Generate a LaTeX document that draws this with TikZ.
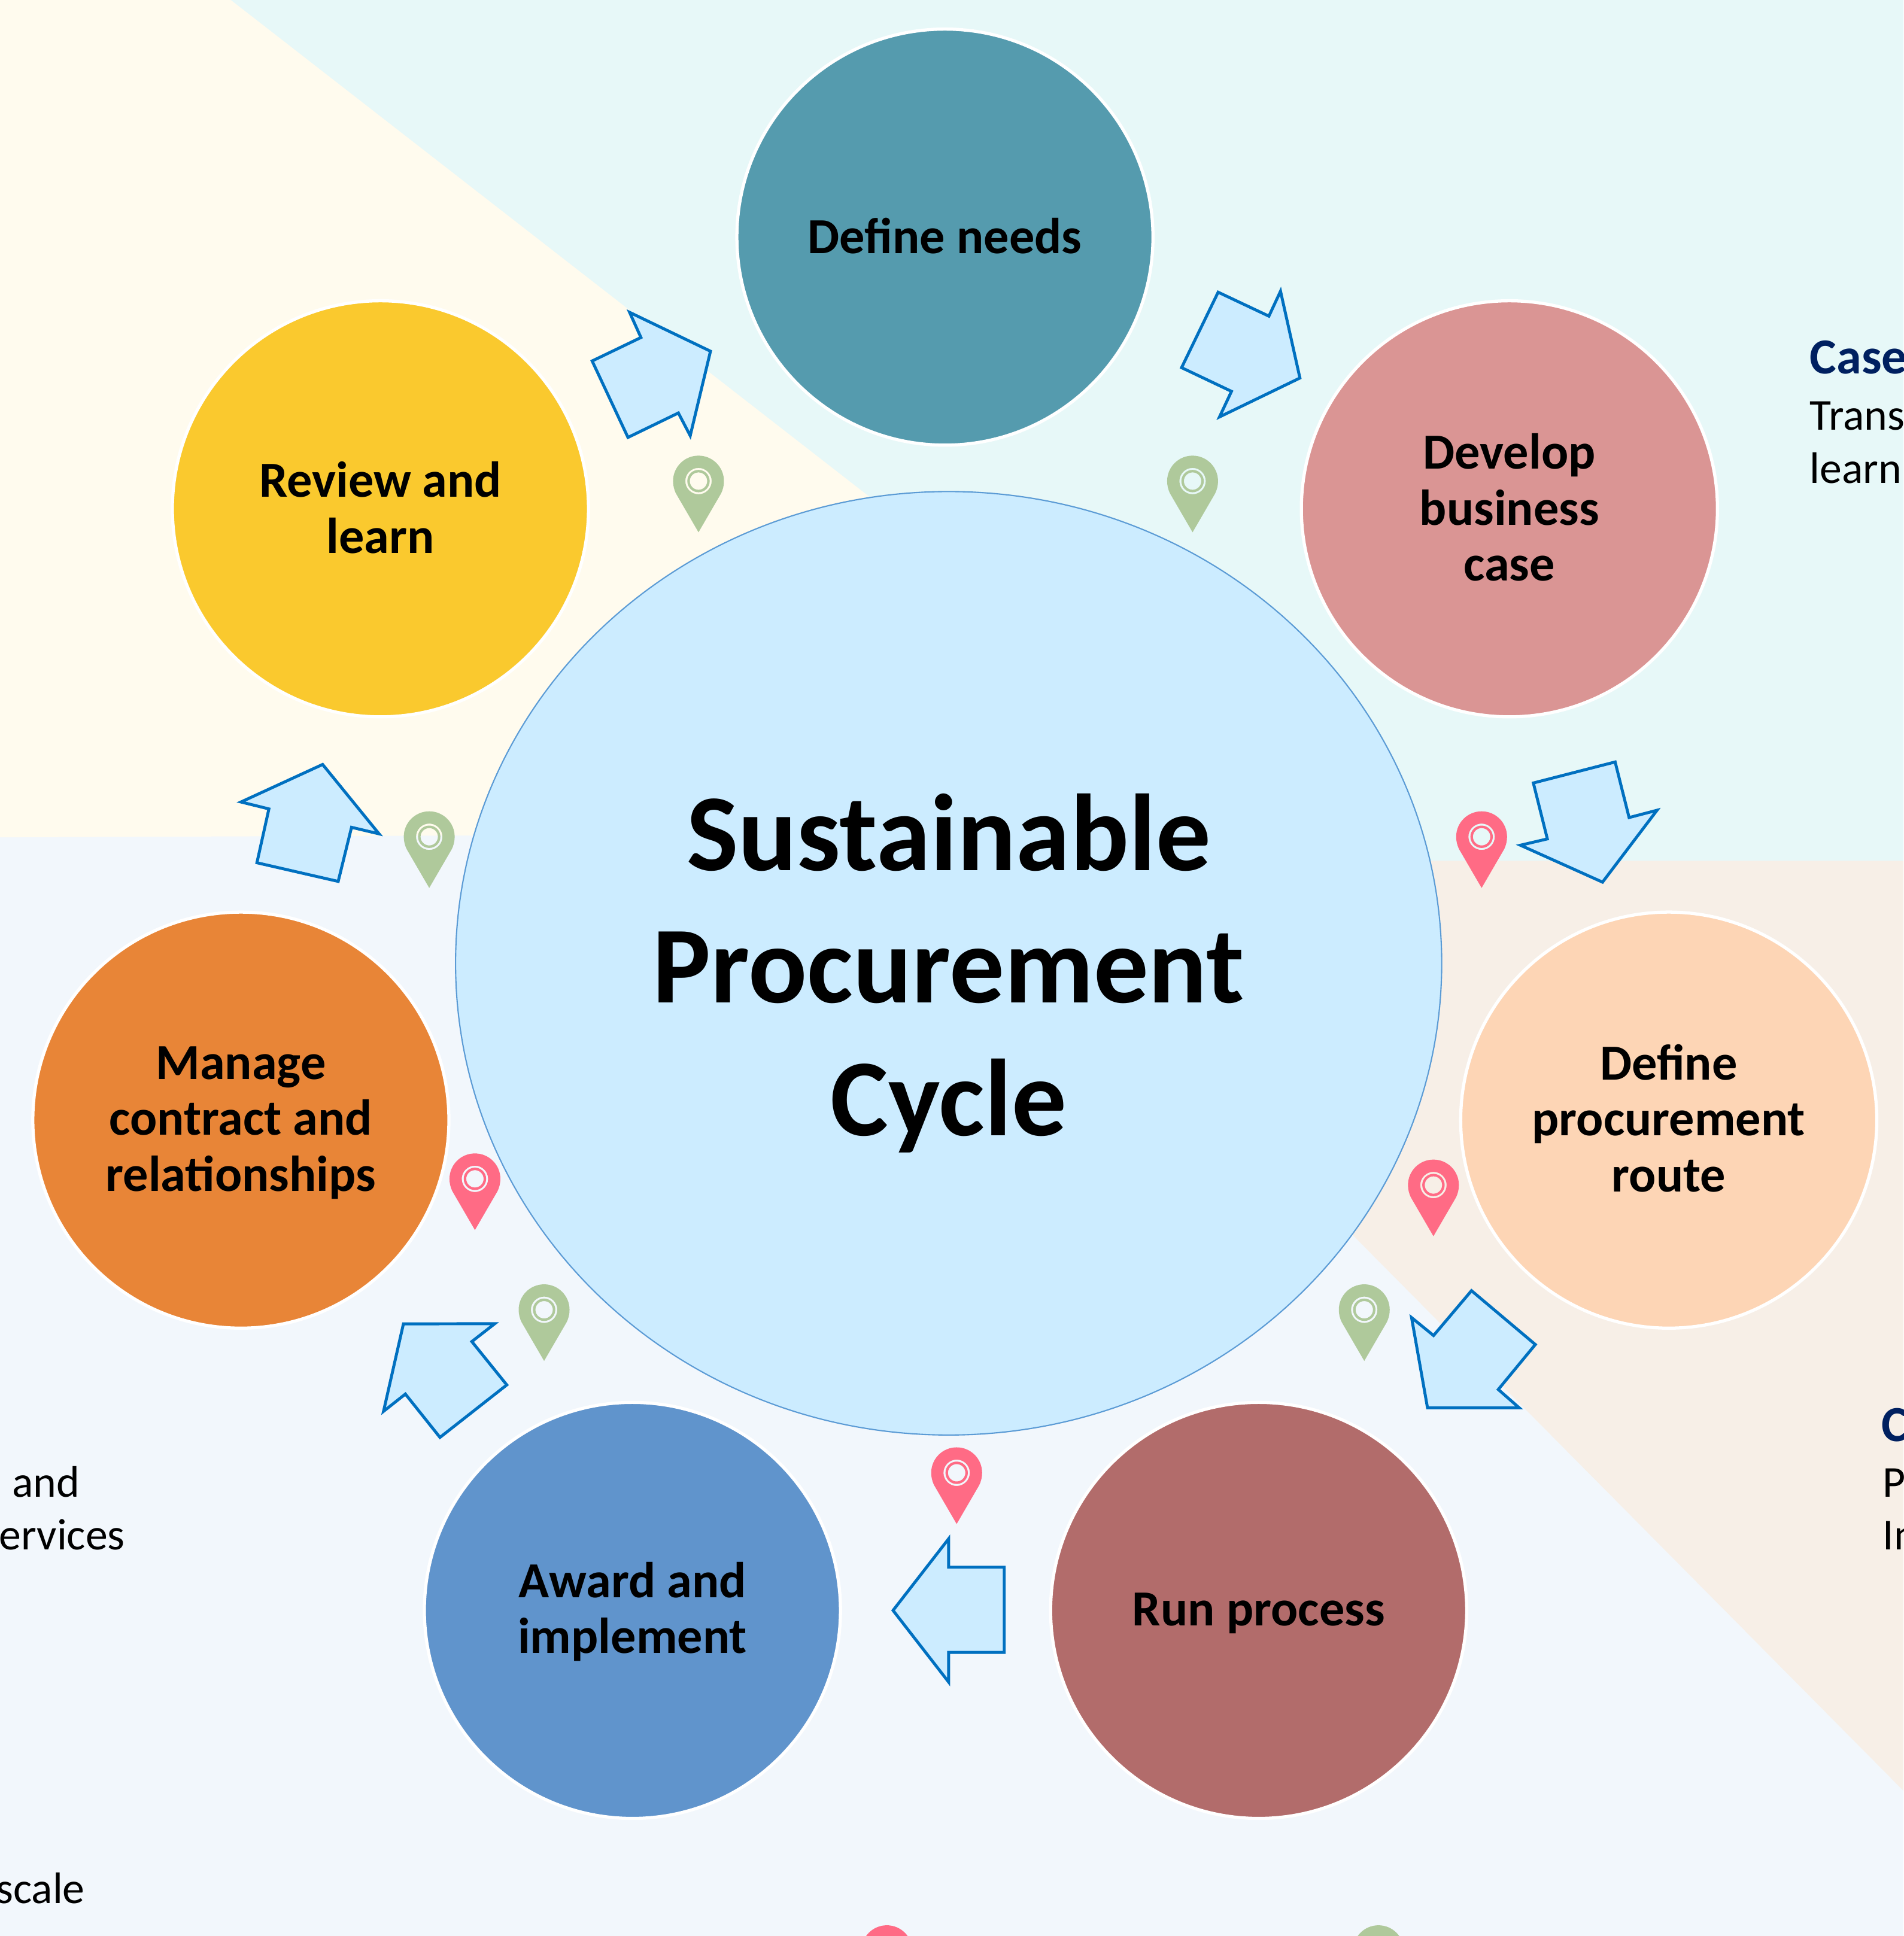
\documentclass[tikz,border=0pt]{standalone}
\usepackage{fontspec}
\setmainfont{Carlito}
\usetikzlibrary{shapes.geometric}
\definecolor{bgblue}{HTML}{F2F7FC}
\definecolor{bgyellow}{HTML}{FFFBEE}
\definecolor{bgteal}{HTML}{E7F8F8}
\definecolor{bgpeach}{HTML}{F7EFE7}
\definecolor{hub}{HTML}{CCECFF}
\definecolor{hubline}{HTML}{5B9BD5}
\definecolor{arrowline}{HTML}{0070C0}
\definecolor{navy}{HTML}{002060}
\definecolor{pinred}{HTML}{FF6B85}
\definecolor{pingreen}{HTML}{AFC99B}
\definecolor{cneeds}{HTML}{559BAE}
\definecolor{ccase}{HTML}{DA9594}
\definecolor{croute}{HTML}{FDD5B5}
\definecolor{crun}{HTML}{B26C6B}
\definecolor{caward}{HTML}{6094CC}
\definecolor{cmanage}{HTML}{E88537}
\definecolor{creview}{HTML}{FAC92E}
\tikzset{
  stage/.style={circle,draw=white,line width=1.5pt,minimum size=6.95cm,inner sep=0pt},
  stagetext/.style={inner sep=0pt,align=center,font=\fontsize{24}{26.6}\selectfont\bfseries,text=black},
  blockarrow/.style={draw=arrowline,fill=hub,line width=1.4pt,miter limit=10},
  headtext/.style={anchor=base west,inner sep=0pt,font=\fontsize{24}{27}\selectfont\bfseries,text=navy},
  bodytext/.style={anchor=base west,inner sep=0pt,font=\fontsize{21}{25}\selectfont,text=black},
  lefttext/.style={anchor=base east,inner sep=0pt,font=\fontsize{21}{25}\selectfont,text=black},
  pics/mappin/.style={code={
    \fill[#1,even odd rule] (0,0) -- (-.375cm,.645cm)
      .. controls (-.41cm,.715cm) and (-.425cm,.785cm) .. (-.425cm,.855cm)
      arc (180:0:.425cm)
      .. controls (.425cm,.785cm) and (.41cm,.715cm) .. (.375cm,.645cm) -- cycle
      (0,.855cm) circle [radius=.22cm]
      (0,.855cm) circle [radius=.187cm]
      (0,.855cm) circle [radius=.145cm];
  }}
}
\begin{document}
\begin{tikzpicture}[x=0.020636cm,y=-0.020636cm]
\useasboundingbox (0,0) rectangle (1541,1567.65);
\begin{scope}
\clip (0,0) rectangle (1541,1567.65);
\fill[bgblue] (0,0) rectangle (1541,1567.65);
\fill[bgyellow] (0,0) -- (187,0) -- (768,452) -- (768,675) -- (0,678) -- cycle;
\fill[bgteal] (187,0) -- (1541,0) -- (1541,697) -- (768,697) -- (768,452) -- cycle;
\fill[bgpeach] (1000,697) -- (1541,697) -- (1541,1450) -- (1000,904) -- cycle;

\node[headtext] (casehead) at (1465,302.5) {Case};
\node[bodytext] (casea) at (1465,348) {Trans};
\node[bodytext] (caseb) at (1465,391.5) {learn};
\node[headtext] (ohead) at (1523,1167) {C};
\node[bodytext] (oa) at (1524,1212) {P};
\node[bodytext] (ob) at (1524,1255) {In};
\node[lefttext] (la) at (65,1212) {and};
\node[lefttext] (lb) at (101.5,1255) {ervices};
\node[lefttext] (lc) at (69,1541) {scale};

\node[ellipse,draw=hubline,line width=.6pt,fill=hub,minimum width=16.47cm,minimum height=15.76cm,inner sep=0pt] (hubnode) at (768,780) {};
\node[align=center,inner sep=0pt,font=\fontsize{52}{63}\selectfont\bfseries] (hubtitle) at (768,788) {Sustainable\\Procurement\\Cycle};

\node[stage,fill=cneeds] (needs) at (765,192) {};
\node[stage,fill=ccase] (case) at (1222,412) {};
\node[stage,fill=croute] (route) at (1351,907) {};
\node[stage,fill=crun] (run) at (1019,1304) {};
\node[stage,fill=caward] (award) at (512,1304) {};
\node[stage,fill=cmanage] (manage) at (195,907) {};
\node[stage,fill=creview] (review) at (308,412) {};

\node[stagetext] (needstext) at (765,191) {Define needs};
\node[stagetext] (casetext) at (1222,411) {Develop\\business\\case};
\node[stagetext] (routetext) at (1351,905.5) {Define\\procurement\\route};
\node[stagetext] (runtext) at (1019,1306.5) {Run process};
\node[stagetext] (awardtext) at (512,1305) {Award and\\implement};
\node[stagetext] (managetext) at (195,909) {Manage\\contract and\\relationships};
\node[stagetext] (reviewtext) at (308,411) {Review and\\learn};

\draw[blockarrow] (479.4,292.3) -- (518.9,273.3) -- (509.7,252.9) -- (575.2,284.4) -- (558.8,352.8) -- (549.2,334.4) -- (508.4,354.2) -- cycle;
\draw[blockarrow] (986.2,236.6) -- (1027.3,256) -- (1036.7,235.8) -- (1052.4,306.1) -- (987.3,337.6) -- (997,316.9) -- (956.6,297.7) -- cycle;
\draw[blockarrow] (1241.4,634) -- (1307.6,617) -- (1318.9,662) -- (1341.5,656.1) -- (1297.4,714.3) -- (1230.9,684.4) -- (1252.7,679.3) -- cycle;
\draw[blockarrow] (1191.3,1045.1) -- (1243,1088.7) -- (1213,1125.1) -- (1230,1140) -- (1155.7,1140) -- (1142.8,1066.9) -- (1160.6,1081.4) -- cycle;
\draw[blockarrow] (813,1269) -- (813,1338) -- (768,1338) -- (768,1362) -- (723,1304) -- (768,1246) -- (768,1269) -- cycle;
\draw[blockarrow] (410.3,1121.4) -- (356.2,1163.9) -- (328.2,1128.8) -- (310.5,1142.8) -- (326.6,1072) -- (400.6,1071.8) -- (382,1086.3) -- cycle;
\draw[blockarrow] (273.8,713.7) -- (208,698.6) -- (217.7,655) -- (195.1,649.4) -- (261.2,619) -- (306.9,675.2) -- (284.6,669.9) -- cycle;

\pic at (565.5,431) {mappin=pingreen};
\pic at (965.5,431) {mappin=pingreen};
\pic at (1199.5,719) {mappin=pinred};
\pic at (1160.5,1001) {mappin=pinred};
\pic at (1104.5,1102) {mappin=pingreen};
\pic at (774.5,1234) {mappin=pinred};
\pic at (440.5,1102) {mappin=pingreen};
\pic at (384.5,996) {mappin=pinred};
\pic at (347.5,719) {mappin=pingreen};
\pic at (718,1621) {mappin=pinred};
\pic at (1116,1621) {mappin=pingreen};
\end{scope}
\end{tikzpicture}
\end{document}
